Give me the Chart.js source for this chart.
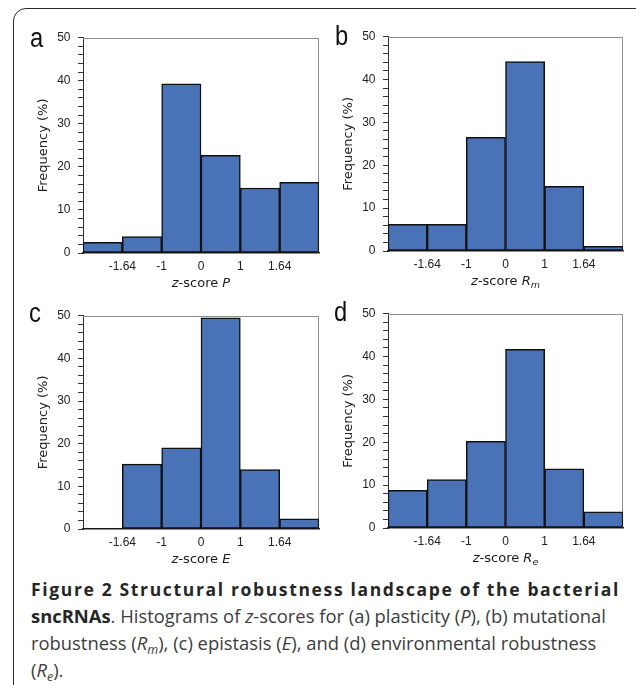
<!DOCTYPE html>
<html>
<head>
<meta charset="utf-8">
<script src="https://cdn.jsdelivr.net/npm/chart.js@4/dist/chart.umd.min.js"></script>
<style>
  html, body { margin: 0; padding: 0; background: #fff; }
  #page { position: relative; width: 636px; height: 685px; overflow: hidden; background: #fff; }
  #frame { position: absolute; left: 13px; top: 8px; width: 640px; height: 720px;
           border: 1.6px solid #2a2a2a; border-radius: 13px; box-sizing: border-box; }
  canvas { position: absolute; }
  .tag { position: absolute; font-family: "Liberation Sans", Arial, sans-serif; font-size: 27px;
         line-height: 27px; color: #111; transform: scaleX(0.88); transform-origin: left top; }
  #cap1 { position: absolute; left: 31px; top: 576px; white-space: nowrap;
          font-family: "Open Sans", sans-serif; font-weight: 700; font-size: 17.5px; line-height: 27px;
          letter-spacing: 1.65px; color: #262626; }
  #cap2 { position: absolute; left: 31px; top: 602px; white-space: nowrap;
          font-family: "Open Sans", sans-serif; font-size: 18.4px; line-height: 27px; color: #3d3d3d; }
  #cap2 b { color: #262626; }
  #cap2 sub { font-size: 0.68em; line-height: 0; vertical-align: -0.28em; }
</style>
</head>
<body>
<div id="page">
  <div id="frame"></div>
  <canvas id="chartA"></canvas>
  <canvas id="chartB"></canvas>
  <canvas id="chartC"></canvas>
  <canvas id="chartD"></canvas>
  <div class="tag" style="left:30px; top:25px;">a</div>
  <div class="tag" style="left:335px; top:23px;">b</div>
  <div class="tag" style="left:29px; top:300px;">c</div>
  <div class="tag" style="left:334px; top:299px;">d</div>
  <div id="cap1">Figure 2 Structural robustness landscape of the bacterial</div>
  <div id="cap2"><b>sncRNAs</b>. Histograms of <i>z</i>-scores for (a) plasticity (<i>P</i>), (b) mutational<br>robustness (<i>R<sub>m</sub></i>), (c) epistasis (<i>E</i>), and (d) environmental robustness<br>(<i>R<sub>e</sub></i>).</div>
</div>
<script>
// z-score bin boundaries shown under the x axis (six bins, five inner edges)
const edgeLabels = ['-1.64', '-1', '0', '1', '1.64'];

// Frequency (%) of sncRNAs in each z-score bin
const freqP  = [2.5, 3.8, 39.3, 22.7, 15.1, 16.4];
const freqRm = [6.2, 6.2, 26.5, 44.2, 15.1, 1.1];
const freqE  = [0, 15.2, 19.0, 49.5, 13.9, 2.4];
const freqRe = [8.8, 11.3, 20.2, 41.7, 13.8, 3.8];

// y axis range, labelled step and minor step
const yMin = 0, yMax = 50, yMajor = 10, yMinor = 2;

// x-axis titles: [text, italic, subscript]
const titleP  = [['z', true, false], ['-score ', false, false], ['P', true, false]];
const titleRm = [['z', true, false], ['-score ', false, false], ['R', true, false], ['m', true, true]];
const titleE  = [['z', true, false], ['-score ', false, false], ['E', true, false]];
const titleRe = [['z', true, false], ['-score ', false, false], ['R', true, false], ['e', true, true]];

const AXIS_W = 70, AXIS_H = 45, PAD_T = 12, PAD_R = 4;
const BAR_BLUE = '#4a72b7';

// plot box outline (light top/right edges) and the mixed-style x title
const boxAndTitle = {
  id: 'boxAndTitle',
  beforeDatasetsDraw(chart) {
    const a = chart.chartArea, ctx = chart.ctx;
    ctx.save();
    ctx.strokeStyle = '#8f8f8f';
    ctx.lineWidth = 1;
    ctx.beginPath();
    ctx.moveTo(a.left, Math.round(a.top) + 0.5);
    ctx.lineTo(Math.round(a.right) - 0.5, Math.round(a.top) + 0.5);
    ctx.lineTo(Math.round(a.right) - 0.5, a.bottom);
    ctx.stroke();
    ctx.restore();
  },
  afterDraw(chart, args, opts) {
    const parts = opts.parts || [];
    const a = chart.chartArea, ctx = chart.ctx;
    const fontFor = (p) => (p[1] ? 'italic ' : '') + (p[2] ? '9.5px' : '13px') + ' "DejaVu Sans", sans-serif';
    ctx.save();
    let total = 0;
    parts.forEach(p => { ctx.font = fontFor(p); total += ctx.measureText(p[0]).width; });
    let x = (a.left + a.right) / 2 - total / 2;
    const y = a.bottom + 30.5;
    ctx.fillStyle = '#1a1a1a';
    ctx.textBaseline = 'middle';
    ctx.textAlign = 'left';
    parts.forEach(p => {
      ctx.font = fontFor(p);
      ctx.fillText(p[0], x, p[2] ? y + 4 : y);
      x += ctx.measureText(p[0]).width;
    });
    ctx.restore();
  }
};

function histogram(id, values, title, box) {
  const cv = document.getElementById(id);
  const w = (box.r - box.l) + AXIS_W + PAD_R;
  const h = (box.b - box.t) + PAD_T + AXIS_H;
  cv.width = w; cv.height = h;
  cv.style.left = (box.l - AXIS_W) + 'px';
  cv.style.top = (box.t - PAD_T) + 'px';
  cv.style.width = w + 'px'; cv.style.height = h + 'px';

  return new Chart(cv, {
    type: 'bar',
    data: {
      datasets: [{
        data: values.map((v, i) => ({ x: i + 0.5, y: v })),
        backgroundColor: BAR_BLUE,
        borderColor: '#111',
        borderWidth: 1.5,
        borderSkipped: false,
        barPercentage: 1,
        categoryPercentage: 1
      }]
    },
    options: {
      responsive: false,
      animation: false,
      devicePixelRatio: 1,
      layout: { padding: { top: PAD_T, right: PAD_R, left: 0, bottom: 0 } },
      plugins: { legend: { display: false }, tooltip: { enabled: false }, boxAndTitle: { parts: title } },
      scales: {
        x: {
          type: 'linear',
          offset: false,
          min: 0, max: values.length,
          afterFit: (s) => { s.height = AXIS_H; },
          grid: { display: false, drawTicks: false, offset: false },
          border: { display: true, color: '#1a1a1a', width: 1.5 },
          ticks: {
            stepSize: 1, autoSkip: false, maxRotation: 0, padding: 6,
            font: { family: '"Liberation Sans", Arial, sans-serif', size: 12 },
            color: '#222',
            callback: (v) => edgeLabels[v - 1] !== undefined ? edgeLabels[v - 1] : ''
          }
        },
        y: {
          min: yMin, max: yMax,
          afterFit: (s) => { s.width = AXIS_W; },
          grid: { display: true, drawOnChartArea: false, drawTicks: true, tickLength: 5, tickColor: '#333', tickWidth: 1 },
          border: { display: true, color: '#333', width: 1 },
          ticks: {
            stepSize: yMinor, autoSkip: false, padding: 7.5,
            font: { family: '"Liberation Sans", Arial, sans-serif', size: 12 },
            color: '#222',
            callback: (v) => (v % yMajor === 0 ? String(v) : '')
          },
          title: {
            display: true, text: 'Frequency (%)', color: '#222',
            font: { family: '"DejaVu Sans", sans-serif', size: 13 },
            padding: { top: 23, bottom: 0 }
          }
        }
      }
    },
    plugins: [boxAndTitle]
  });
}

histogram('chartA', freqP,  titleP,  { l: 83,  t: 35,  r: 321, b: 253 });
histogram('chartB', freqRm, titleRm, { l: 388, t: 34,  r: 625, b: 251 });
histogram('chartC', freqE,  titleE,  { l: 83,  t: 313, r: 321, b: 529 });
histogram('chartD', freqRe, titleRe, { l: 388, t: 311, r: 625, b: 528 });
</script>
</body>
</html>
